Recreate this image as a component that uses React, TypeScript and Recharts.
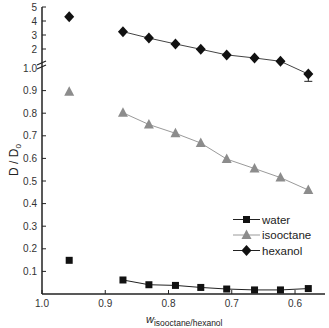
import React from "react";
import { ComposedChart, Line, XAxis, YAxis, ErrorBar, Label } from "recharts";

// mass fraction of isooctane/hexanol (x) and relative diffusion D/D0
const wFraction = [0.957, 0.872, 0.831, 0.789, 0.749, 0.708, 0.664, 0.623, 0.579];
const water = [0.149, 0.062, 0.041, 0.038, 0.029, 0.022, 0.018, 0.018, 0.024];
const isooctane = [0.895, 0.802, 0.75, 0.711, 0.668, 0.597, 0.555, 0.515, 0.46];
const hexanol = [4.31, 3.24, 2.78, 2.36, 1.98, 1.58, 1.36, 1.12, 0.973];
const hexanolErr = [0, 0, 0, 0, 0, 0, 0, 0, 0.032];

const xTicks = [1.0, 0.9, 0.8, 0.7, 0.6];
const lowTicks = [0.1, 0.2, 0.3, 0.4, 0.5, 0.6, 0.7, 0.8, 0.9, 1.0];
const highTicks = [2, 3, 4, 5];

// broken y axis: 0..1 linear below the break, 1..5 compressed above it
const LOW_SPAN = 226;
const GAP = 5;
const HIGH_UNIT = 14;
const toAxis = (v: number) =>
  v <= 1 ? v * LOW_SPAN : LOW_SPAN + GAP + (v - 1) * HIGH_UNIT;
const Y_MAX = toAxis(5);

const FONT = "'Liberation Sans', Arial, sans-serif";
const INK = "#222";

// only the lower whisker shows in the figure; the upper one sits under the marker
const rows = (vals: number[], err?: number[]) =>
  wFraction.map((w, i) => ({
    w,
    v: vals[i],
    err: [err ? err[i] * LOW_SPAN : 0, 0],
  }));

const waterRows = rows(water);
const isoRows = rows(isooctane);
const hexRows = rows(hexanol, hexanolErr);

const Square = ({ cx, cy }: any) => (
  <rect x={cx - 3.5} y={cy - 3.5} width={7} height={7} fill="#111" />
);
const Triangle = ({ cx, cy }: any) => (
  <polygon
    points={`${cx},${cy - 5.5} ${cx - 5},${cy + 4} ${cx + 5},${cy + 4}`}
    fill="#8c8c8c"
  />
);
const Diamond = ({ cx, cy }: any) => (
  <polygon
    points={`${cx},${cy - 5.5} ${cx + 5},${cy} ${cx},${cy + 5.5} ${cx - 5},${cy}`}
    fill="#111"
  />
);

const YTick = (props: any) => {
  const { x, y, payload } = props;
  const t = payload.value;
  const v = t <= LOW_SPAN ? t / LOW_SPAN : 1 + (t - LOW_SPAN - GAP) / HIGH_UNIT;
  const isHigh = t > LOW_SPAN;
  const label = isHigh ? String(Math.round(v)) : v.toFixed(1);
  const isBreak = !isHigh && Math.abs(v - 1) < 1e-6;
  return (
    <g>
      {isBreak ? (
        <g stroke={INK} strokeWidth={1.2}>
          <line x1={x - 5} y1={y - 3} x2={x + 4} y2={y - 7} />
          <line x1={x - 5} y1={y + 1} x2={x + 4} y2={y - 3} />
        </g>
      ) : (
        <line x1={x} y1={y} x2={x + 4} y2={y} stroke={INK} />
      )}
      <text
        x={x - 5}
        y={y}
        dy={3.5}
        textAnchor="end"
        fontSize={10}
        fontFamily={FONT}
        fill="#333"
      >
        {label}
      </text>
    </g>
  );
};

const XTick = (props: any) => {
  const { x, y, payload } = props;
  return (
    <g>
      <line x1={x} y1={y} x2={x} y2={y - 4} stroke={INK} />
      <text
        x={x}
        y={y}
        dy={13}
        textAnchor="middle"
        fontSize={10}
        fontFamily={FONT}
        fill="#333"
      >
        {payload.value.toFixed(1)}
      </text>
    </g>
  );
};

const legendItems = [
  { name: "water", color: "#222", Marker: Square },
  { name: "isooctane", color: "#9a9a9a", Marker: Triangle },
  { name: "hexanol", color: "#222", Marker: Diamond },
];

export default function App() {
  const yTicks = [...lowTicks.map(toAxis), ...highTicks.map(toAxis)];
  const series = [
    { key: "water", data: waterRows, stroke: "#222", dot: Square },
    { key: "iso", data: isoRows, stroke: "#9a9a9a", dot: Triangle },
    { key: "hex", data: hexRows, stroke: "#444", dot: Diamond },
  ];

  return (
    <div style={{ position: "absolute", left: 0, top: 0, width: 329, height: 328, background: "#fff" }}>
      <ComposedChart
        width={329}
        height={328}
        margin={{ top: 7, right: 4, bottom: 0, left: 0 }}
      >
        <XAxis
          xAxisId="b"
          dataKey="w"
          type="number"
          domain={[0.5526, 1]}
          reversed
          allowDataOverflow
          ticks={xTicks}
          interval={0}
          tickSize={0}
          tickMargin={0}
          tickLine={false}
          tick={XTick}
          axisLine={{ stroke: INK, strokeWidth: 1.5 }}
          height={34}
        >
          <Label
            content={() => (
              <text x={146} y={323} fontFamily={FONT} fill="#222">
                <tspan fontSize={11} fontStyle="italic">w</tspan>
                <tspan fontSize={8.5} dy={3}>isooctane/hexanol</tspan>
              </text>
            )}
          />
        </XAxis>
        <XAxis
          xAxisId="t"
          orientation="top"
          type="number"
          domain={[0.5526, 1]}
          reversed
          tick={false}
          tickLine={false}
          axisLine={{ stroke: "#444", strokeWidth: 1 }}
          height={0}
        />
        <YAxis
          yAxisId="l"
          type="number"
          domain={[0, Y_MAX]}
          allowDataOverflow
          ticks={yTicks}
          interval={0}
          tickSize={0}
          tickMargin={0}
          tickLine={false}
          tick={YTick}
          axisLine={{ stroke: INK, strokeWidth: 1.5 }}
          width={42}
        >
          <Label
            content={() => (
              <text
                x={18}
                y={160}
                transform="rotate(-90, 18, 160)"
                textAnchor="middle"
                fontFamily={FONT}
                fill="#222"
                fontSize={12}
              >
                D / D<tspan fontSize={8} dy={3}>0</tspan>
              </text>
            )}
          />
        </YAxis>
        <YAxis
          yAxisId="r"
          orientation="right"
          type="number"
          domain={[0, Y_MAX]}
          tick={false}
          tickLine={false}
          axisLine={{ stroke: "#111", strokeWidth: 2.2 }}
          width={0}
        />
        {series.map((s) => (
          <Line
            key={s.key + "-first"}
            xAxisId="b"
            yAxisId="l"
            data={s.data.slice(0, 1)}
            dataKey={(d: any) => toAxis(d.v)}
            stroke="none"
            dot={(p: any) => <s.dot key={s.key + "f" + p.index} cx={p.cx} cy={p.cy} />}
            isAnimationActive={false}
          />
        ))}
        {series.map((s) => (
          <Line
            key={s.key + "-rest"}
            xAxisId="b"
            yAxisId="l"
            data={s.data.slice(1)}
            dataKey={(d: any) => toAxis(d.v)}
            stroke={s.stroke}
            strokeWidth={1}
            dot={(p: any) => <s.dot key={s.key + "r" + p.index} cx={p.cx} cy={p.cy} />}
            isAnimationActive={false}
          >
            {s.key === "hex" && (
              <ErrorBar
                dataKey="err"
                direction="y"
                width={4}
                stroke="#222"
                strokeWidth={1}
              />
            )}
          </Line>
        ))}
      </ComposedChart>
      <svg
        width={100}
        height={46}
        style={{ position: "absolute", left: 230, top: 211 }}
      >
        {legendItems.map((it, i) => {
          const y = 8.5 + i * 15.5;
          return (
            <g key={it.name}>
              <line x1={3} y1={y} x2={30} y2={y} stroke={it.color} strokeWidth={1} />
              <it.Marker cx={16.5} cy={y} />
              <text
                x={32}
                y={y}
                dy={4}
                fontSize={11.5}
                fontFamily={FONT}
                fill="#222"
              >
                {it.name}
              </text>
            </g>
          );
        })}
      </svg>
    </div>
  );
}
